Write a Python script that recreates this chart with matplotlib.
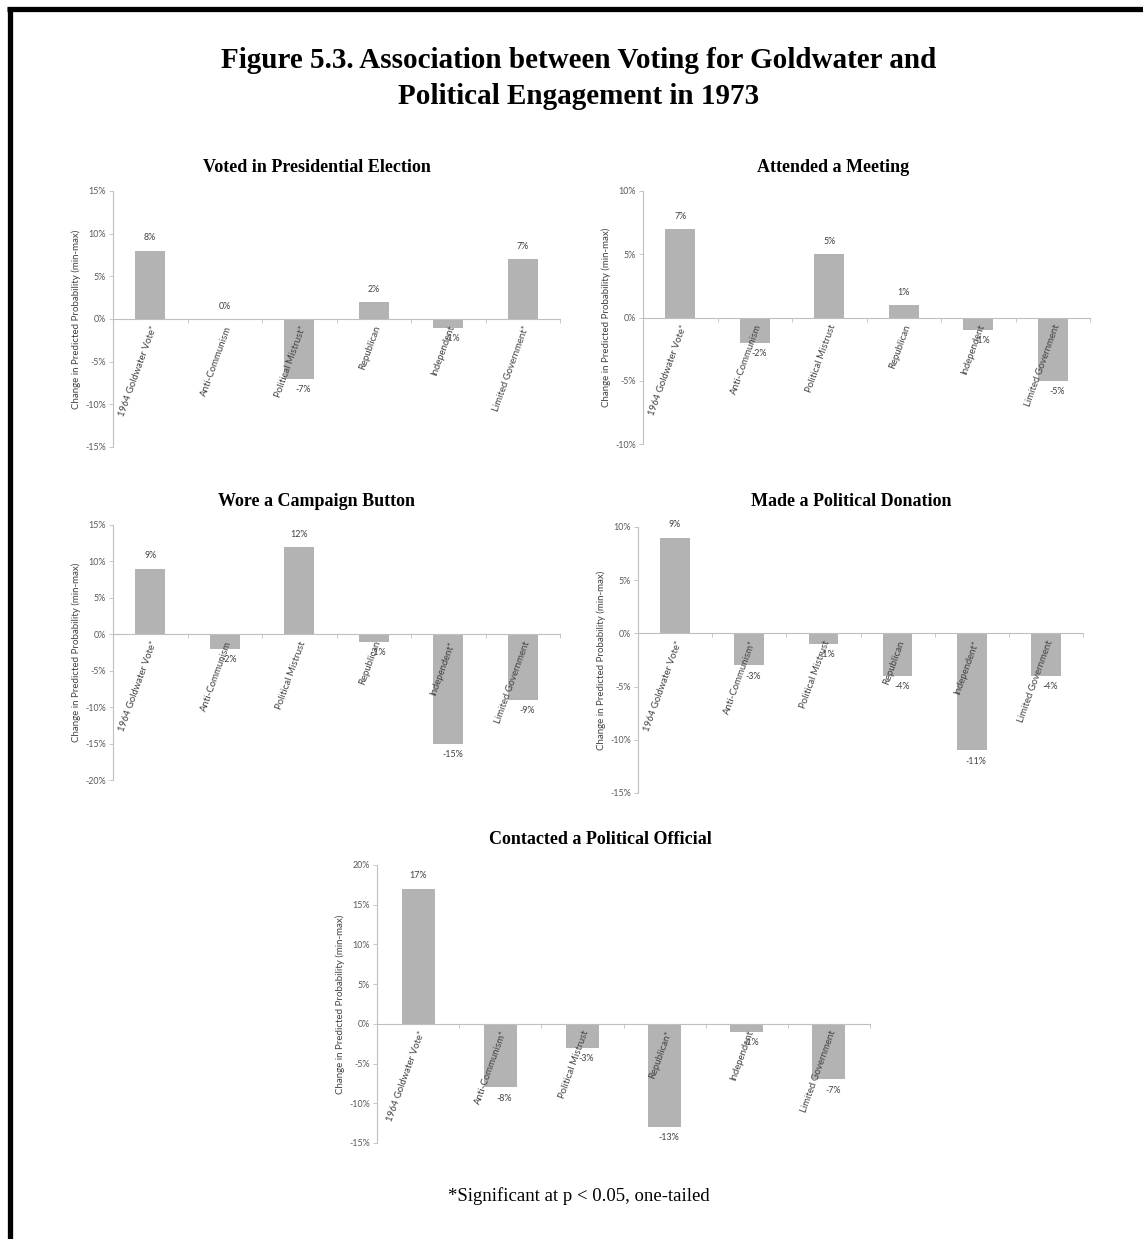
import matplotlib
matplotlib.use("Agg")
import matplotlib.pyplot as plt
from matplotlib.lines import Line2D

# Panel 1
voted_labels = ["1964 Goldwater Vote*", "Anti-Communism", "Political Mistrust*",
                "Republican", "Independent", "Limited Government*"]
voted_values = [8, 0, -7, 2, -1, 7]
# Panel 2
meeting_labels = ["1964 Goldwater Vote*", "Anti-Communism", "Political Mistrust",
                  "Republican", "Independent", "Limited Government"]
meeting_values = [7, -2, 5, 1, -1, -5]
# Panel 3
button_labels = ["1964 Goldwater Vote*", "Anti-Communism", "Political Mistrust",
                 "Republican", "Independent*", "Limited Government"]
button_values = [9, -2, 12, -1, -15, -9]
# Panel 4
donation_labels = ["1964 Goldwater Vote*", "Anti-Communism*", "Political Mistrust",
                   "Republican", "Independent*", "Limited Government"]
donation_values = [9, -3, -1, -4, -11, -4]
# Panel 5
contact_labels = ["1964 Goldwater Vote*", "Anti-Communism*", "Political Mistrust",
                  "Republican*", "Independent", "Limited Government"]
contact_values = [17, -8, -3, -13, -1, -7]

W, H = 1143, 1239
fig = plt.figure(figsize=(W / 100, H / 100), dpi=100)

GRAY_TXT = "#595959"
AXCOL = "#bfbfbf"
BARCOL = "#b3b3b3"
SANS = ["Lato", "DejaVu Sans"]
SERIF = ["Liberation Serif", "DejaVu Serif"]


def px_axes(x0, x1, y0, y1):
    return fig.add_axes([x0 / W, 1 - y1 / H, (x1 - x0) / W, (y1 - y0) / H])


def panel(rect, title, title_xy, labels, values, ylim, step):
    ax = px_axes(*rect)
    n = len(values)
    xs = list(range(n))
    ax.bar(xs, values, width=0.4, color=BARCOL, edgecolor="none", zorder=1)
    ax.set_axisbelow(False)
    ax.set_xlim(-0.5, n - 0.5)
    ax.set_ylim(*ylim)
    yt = list(range(ylim[0], ylim[1] + 1, step))
    ax.set_yticks(yt)
    ax.set_yticklabels([f"{v}%" for v in yt], fontsize=6.4, color=GRAY_TXT, family=SANS)
    ax.tick_params(axis="y", length=3, width=0.6, color=AXCOL, pad=2)
    for s in ["top", "right"]:
        ax.spines[s].set_visible(False)
    ax.spines["left"].set_color(AXCOL)
    ax.spines["left"].set_linewidth(0.8)
    ax.spines["bottom"].set_position(("data", 0))
    ax.spines["bottom"].set_color(AXCOL)
    ax.spines["bottom"].set_linewidth(0.8)
    ax.set_xticks([i - 0.5 for i in range(n + 1)])
    ax.set_xticklabels([])
    ax.tick_params(axis="x", which="major", length=3, width=0.6, color=AXCOL, direction="out")
    ax.set_xticks(xs, minor=True)
    ax.set_xticklabels(labels, minor=True, rotation=70, ha="right", va="top",
                       rotation_mode="anchor", fontsize=6.9, color="#404040",
                       family=SANS)
    ax.tick_params(axis="x", which="minor", length=0, pad=4)
    for x, v in zip(xs, values):
        if v >= 0:
            ax.annotate(f"{v}%", (x, v), xytext=(0, 6), textcoords="offset points",
                        ha="center", va="bottom", fontsize=6.4, color="#404040", family=SANS)
        else:
            ax.annotate(f"{v}%", (x, v), xytext=(3, -4.5), textcoords="offset points",
                        ha="center", va="top", fontsize=6.4, color="#404040", family=SANS)
    ax.set_ylabel("Change in Predicted Probability (min-max)", fontsize=7,
                  color="#404040", family=SANS, labelpad=3)
    fig.text(title_xy[0] / W, 1 - title_xy[1] / H, title, ha="center", va="center",
             fontsize=13, fontweight="bold", family=SERIF)
    return ax


panel((113, 560, 191, 447), "Voted in Presidential Election", (317, 167),
      voted_labels, voted_values, (-15, 15), 5)
panel((643, 1090, 191, 444), "Attended a Meeting", (833, 167),
      meeting_labels, meeting_values, (-10, 10), 5)
panel((113, 560, 525, 780), "Wore a Campaign Button", (317, 501),
      button_labels, button_values, (-20, 15), 5)
panel((638, 1083, 527, 793), "Made a Political Donation", (851, 501),
      donation_labels, donation_values, (-15, 10), 5)
panel((377, 870, 865, 1143), "Contacted a Political Official", (600, 839),
      contact_labels, contact_values, (-15, 20), 5)

fig.text(579 / W, 1 - 61 / H, "Figure 5.3. Association between Voting for Goldwater and",
         ha="center", va="center", fontsize=21, fontweight="bold", family=SERIF)
fig.text(579 / W, 1 - 96 / H, "Political Engagement in 1973",
         ha="center", va="center", fontsize=21, fontweight="bold", family=SERIF)
fig.text(579 / W, 1 - 1196 / H, "*Significant at p < 0.05, one-tailed",
         ha="center", va="center", fontsize=13.5, family=SERIF)

# frame (top and left edges)
fig.add_artist(Line2D([9.5 / W, 9.5 / W], [0, 1 - 7 / H], transform=fig.transFigure,
                      color="black", linewidth=3.8, solid_capstyle="butt"))
fig.add_artist(Line2D([7 / W, 1], [1 - 9 / H, 1 - 9 / H], transform=fig.transFigure,
                      color="black", linewidth=3.8, solid_capstyle="butt"))

fig.savefig("out.png", dpi=100, facecolor="white")
